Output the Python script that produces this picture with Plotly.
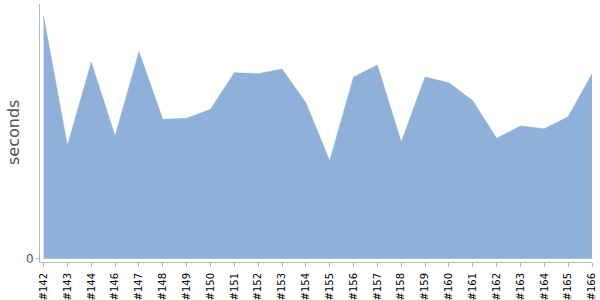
import plotly.graph_objects as go

builds = ["#142", "#143", "#144", "#146", "#147", "#148", "#149", "#150", "#151", "#152",
          "#153", "#154", "#155", "#156", "#157", "#158", "#159", "#160", "#161", "#162",
          "#163", "#164", "#165", "#166"]
seconds = [242.7, 113, 196.4, 122.7, 207, 139.4, 140.4, 149.4, 186, 185,
           189.7, 156, 98, 181.7, 193.7, 116.7, 181.7, 176, 158, 120.4,
           132.7, 130, 142, 184.7]

fill_color = "rgb(143,176,217)"
axis_color = "#b8b8b8"

fig = go.Figure()
fig.add_trace(go.Scatter(
    x=list(range(len(builds))), y=seconds,
    mode="lines", fill="tozeroy",
    line=dict(color=fill_color, width=0.5),
    fillcolor=fill_color,
    hoverinfo="skip",
))

fig.update_layout(
    width=600, height=300,
    margin=dict(l=40, r=8, t=4, b=38),
    paper_bgcolor="white", plot_bgcolor="white",
    showlegend=False,
    font=dict(family="DejaVu Sans", size=10, color="black"),
    xaxis=dict(
        range=[-0.15, len(builds) - 1],
        tickmode="array",
        tickvals=list(range(len(builds))),
        ticktext=builds,
        tickangle=-90,
        automargin=False,
        showgrid=False, zeroline=False,
        showline=True, linecolor=axis_color, linewidth=1,
        ticks="outside", ticklen=4, tickcolor=axis_color, tickwidth=1,
        ticklabelstandoff=2,
        tickfont=dict(family="DejaVu Sans", size=10, color="black"),
    ),
    yaxis=dict(
        range=[-3.3, 254.7],
        tickmode="array", tickvals=[0], ticktext=["0"],
        automargin=False,
        showgrid=False, zeroline=False,
        showline=True, linecolor=axis_color, linewidth=1,
        ticks="outside", ticklen=3, tickcolor=axis_color, tickwidth=1,
        tickfont=dict(family="DejaVu Sans", size=12, color="#555555"),
    ),
    annotations=[dict(
        text="seconds", textangle=-90,
        xref="paper", yref="paper",
        x=(13 - 40) / 552, y=(262 - 133) / 258,
        xanchor="center", yanchor="middle",
        showarrow=False,
        font=dict(family="DejaVu Sans", size=16, color="#555555"),
    )],
)

fig.write_html("out.html")
